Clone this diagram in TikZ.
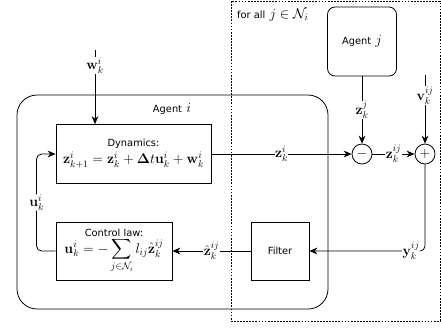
\RequirePackage{fix-cm}
\documentclass[tikz,border=0pt]{standalone}
\usepackage{amsmath, amssymb, bm}
\usepackage[no-math]{fontspec}
\newfontfamily\diagfont{DejaVu Sans}
\usetikzlibrary{calc, positioning, arrows.meta}

\newcommand{\mathsz}{\fontsize{16}{19}\selectfont}
\newcommand{\txt}[1]{{\diagfont\fontsize{11.2}{13.5}\selectfont #1}}

\tikzset{
    blockbox/.style={draw, line width=0.9pt, font=\mathsz, align=center, inner sep=2pt},
    sumnode/.style={draw, circle, line width=0.9pt, minimum size=8mm, inner sep=0pt, font=\mathsz},
    sig/.style={fill=white, inner sep=0.5pt, font=\mathsz},
    link/.style={-{Stealth[length=3.2mm, width=2.7mm]}, line width=0.9pt},
}

\begin{document}
\begin{tikzpicture}[x=0.4mm, y=-0.4mm]
    \useasboundingbox (0,0) rectangle (441,327);

    % Zona de los vecinos
    \draw[dash pattern=on 2pt off 1.5pt, line width=0.8pt] (231,1) rectangle (440,321);
    \node[font=\mathsz, anchor=west] (forall) at (234,15) {\txt{for all} $j\in\mathcal{N}_i$};

    % Agente i
    \draw[line width=0.9pt, rounded corners=8mm] (17,95) rectangle (328,309);
    \node[font=\mathsz] (agenti) at (172,109) {\txt{Agent} $i$};

    % Bloques
    \node[blockbox, minimum width=62mm, minimum height=23.6mm] (dyn) at (133.5,154)
        {\txt{Dynamics:}\\ $\mathbf{z}_{k+1}^i = \mathbf{z}_k^i + \mathbf{\Delta} t\mathbf{u}_k^i + \mathbf{w}_k^i$};
    \node[blockbox, minimum width=46.4mm, minimum height=23.2mm] (ctrl) at (114,251)
        {\txt{Control law:}\\ $\displaystyle \mathbf{u}_k^i = -\sum_{j\in\mathcal{N}_i} l_{ij}\hat{\mathbf{z}}_k^{ij}$};
    \node[blockbox, minimum size=23.2mm] (filter) at (280,251) {\txt{Filter}};
    \node[blockbox, rounded corners=3mm, minimum size=27.6mm] (agentj) at (362,41.5) {\txt{Agent} $j$};

    % Sumadores
    \node[sumnode] (minus) at (362,154) {$-$};
    \node[sumnode] (plus) at (425,154) {$+$};

    % Entradas externas
    \coordinate (win) at (95,50);
    \coordinate (vin) at (425,75);

    % Conexiones
    \draw[link] (win) -- node[sig, pos=0.21] {$\mathbf{w}_k^i$} (win |- dyn.north);
    \draw[link] (dyn.east) -- node[sig] {$\mathbf{z}_k^i$} (minus.west);
    \draw[link] (agentj.south) -- node[sig] {$\mathbf{z}_k^j$} (minus.north);
    \draw[link] (minus.east) -- node[sig] {$\mathbf{z}_k^{ij}$} (plus.west);
    \draw[link] (vin) -- node[sig, pos=0.3] {$\mathbf{v}_k^{ij}$} (plus.north);
    \draw[link, rounded corners=2mm] (plus.south) |- node[sig, pos=0.56] {$\mathbf{y}_k^{ij}$} (filter.east);
    \draw[link] (filter.west) -- node[sig] {$\hat{\mathbf{z}}_k^{ij}$} (ctrl.east);
    \draw[link, rounded corners=2mm] (ctrl.west) -- ++(-19,0) |- node[sig, pos=0.25] {$\mathbf{u}_k^i$} (dyn.west);
\end{tikzpicture}
\end{document}
